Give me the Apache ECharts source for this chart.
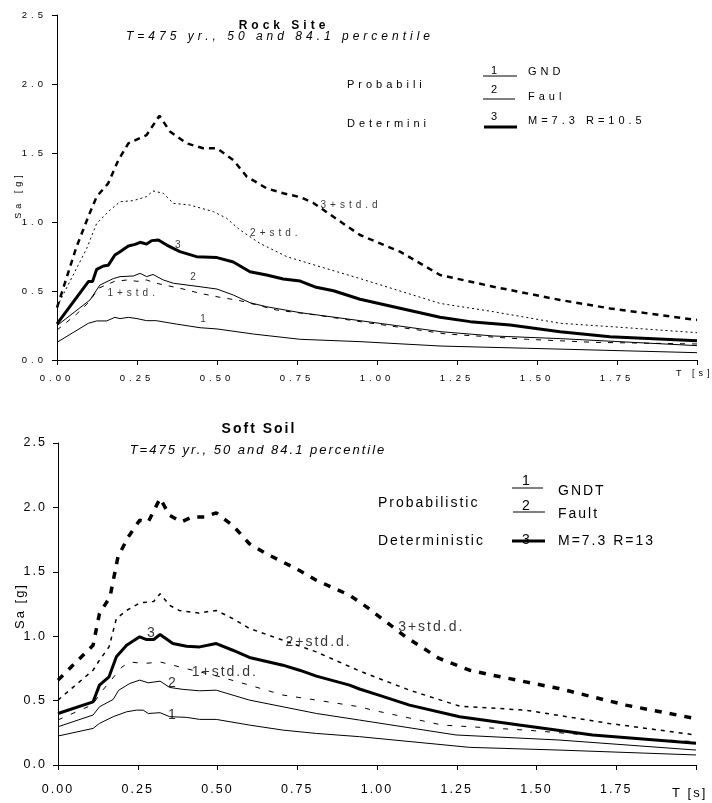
<!DOCTYPE html>
<html><head><meta charset="utf-8">
<script src="https://cdn.jsdelivr.net/npm/echarts@6/dist/echarts.min.js"></script>
<style>
html,body{margin:0;padding:0;background:#fff;width:712px;height:803px;overflow:hidden}
#top{position:absolute;left:0;top:0;width:712px;height:400px}
#bot{position:absolute;left:0;top:400px;width:712px;height:403px}
</style>
</head><body><div id="top"></div><div id="bot"></div>
<script>
// ---------- Rock Site (T [s], Sa [g]) ----------
var rock1 = [[0,0.128],[0.098,0.266],[0.124,0.283],[0.155,0.283],[0.181,0.309],[0.197,0.30],[0.223,0.309],[0.25,0.30],[0.28,0.285],[0.31,0.285],[0.374,0.26],[0.447,0.234],[0.5,0.225],[0.614,0.188],[0.76,0.15],[0.947,0.133],[1.2,0.101],[1.47,0.085],[2.0,0.053]];
var rock2 = [[0,0.249],[0.103,0.435],[0.134,0.543],[0.176,0.59],[0.197,0.604],[0.239,0.609],[0.26,0.628],[0.28,0.604],[0.30,0.62],[0.332,0.58],[0.364,0.556],[0.447,0.531],[0.5,0.514],[0.551,0.471],[0.603,0.415],[0.655,0.386],[0.76,0.343],[0.947,0.285],[1.2,0.205],[1.364,0.174],[1.572,0.155],[2.0,0.104]];
var rock3 = [[0,0.261],[0.098,0.568],[0.111,0.568],[0.124,0.657],[0.145,0.681],[0.16,0.686],[0.181,0.761],[0.197,0.785],[0.223,0.826],[0.244,0.838],[0.26,0.853],[0.28,0.84],[0.296,0.865],[0.317,0.87],[0.343,0.833],[0.384,0.785],[0.436,0.749],[0.5,0.742],[0.551,0.71],[0.603,0.64],[0.655,0.616],[0.707,0.587],[0.76,0.572],[0.81,0.527],[0.864,0.502],[0.947,0.44],[1.051,0.386],[1.197,0.31],[1.291,0.278],[1.416,0.254],[1.572,0.205],[1.728,0.169],[2.0,0.14]];
var rock1std = [[0,0.217],[0.06,0.33],[0.1,0.42],[0.13,0.52],[0.18,0.57],[0.22,0.58],[0.25,0.57],[0.28,0.58],[0.31,0.556],[0.384,0.52],[0.447,0.483],[0.51,0.454],[0.572,0.43],[0.686,0.362],[0.81,0.326],[0.947,0.278],[1.218,0.188],[1.47,0.15],[1.677,0.128],[2.0,0.116]];
var rock2std = [[0,0.386],[0.093,0.809],[0.124,0.99],[0.166,1.087],[0.197,1.147],[0.239,1.155],[0.28,1.184],[0.30,1.225],[0.332,1.208],[0.364,1.135],[0.415,1.123],[0.489,1.075],[0.53,1.027],[0.572,0.942],[0.634,0.845],[0.718,0.749],[0.822,0.676],[0.947,0.59],[1.197,0.41],[1.364,0.35],[1.572,0.266],[1.728,0.242],[2.0,0.198]];
var rock3std = [[0,0.38],[0.061,0.82],[0.098,1.04],[0.124,1.184],[0.16,1.28],[0.192,1.45],[0.223,1.57],[0.28,1.63],[0.32,1.77],[0.353,1.656],[0.405,1.57],[0.457,1.534],[0.5,1.534],[0.551,1.449],[0.593,1.329],[0.655,1.244],[0.707,1.208],[0.76,1.18],[0.8,1.14],[0.85,1.06],[0.9,0.98],[0.947,0.906],[1.072,0.785],[1.197,0.616],[1.364,0.531],[1.572,0.435],[1.728,0.374],[2.0,0.29]];
var rockLabels = [['3',0.384,0.833],['2',0.431,0.60],['1+std.',0.238,0.486],['1',0.4625,0.297],['2+std.',0.684,0.92],['3+std.d',0.919,1.123]];

// ---------- Soft Soil ----------
var soft1 = [[0,0.225],[0.11,0.284],[0.13,0.323],[0.173,0.375],[0.215,0.413],[0.246,0.426],[0.267,0.426],[0.283,0.40],[0.32,0.406],[0.35,0.375],[0.403,0.37],[0.444,0.354],[0.496,0.354],[0.6,0.31],[0.705,0.271],[0.81,0.245],[0.945,0.22],[1.29,0.137],[1.57,0.116],[2.0,0.078]];
var soft2 = [[0,0.297],[0.11,0.388],[0.13,0.452],[0.173,0.509],[0.19,0.58],[0.225,0.633],[0.256,0.659],[0.283,0.638],[0.32,0.651],[0.35,0.602],[0.392,0.587],[0.444,0.576],[0.496,0.581],[0.6,0.504],[0.705,0.452],[0.81,0.40],[0.945,0.349],[1.248,0.233],[1.57,0.194],[2.0,0.116]];
var soft3 = [[0,0.40],[0.11,0.49],[0.13,0.62],[0.16,0.685],[0.183,0.84],[0.215,0.93],[0.256,0.995],[0.278,0.974],[0.3,0.974],[0.32,1.013],[0.36,0.943],[0.403,0.922],[0.444,0.917],[0.496,0.943],[0.548,0.891],[0.6,0.835],[0.705,0.775],[0.757,0.736],[0.81,0.69],[0.914,0.62],[0.945,0.59],[0.998,0.548],[1.102,0.465],[1.259,0.375],[1.446,0.31],[1.676,0.233],[2.0,0.168]];
var soft1std = [[0,0.35],[0.11,0.47],[0.13,0.55],[0.16,0.64],[0.2,0.76],[0.225,0.80],[0.27,0.788],[0.32,0.80],[0.36,0.775],[0.4,0.749],[0.5,0.69],[0.6,0.62],[0.705,0.543],[0.81,0.504],[0.945,0.452],[0.986,0.426],[1.205,0.31],[1.466,0.271],[1.727,0.22],[2.0,0.181]];
var soft2std = [[0,0.504],[0.11,0.736],[0.13,0.814],[0.16,0.917],[0.183,1.137],[0.215,1.2],[0.256,1.258],[0.3,1.27],[0.32,1.33],[0.35,1.24],[0.38,1.2],[0.44,1.18],[0.496,1.2],[0.548,1.137],[0.6,1.06],[0.705,0.969],[0.81,0.878],[0.945,0.73],[1.102,0.581],[1.259,0.457],[1.466,0.426],[1.727,0.323],[2.0,0.233]];
var soft3std = [[0,0.659],[0.11,0.93],[0.13,1.176],[0.163,1.305],[0.188,1.616],[0.22,1.77],[0.256,1.9],[0.283,1.887],[0.32,2.07],[0.35,1.938],[0.386,1.887],[0.42,1.925],[0.46,1.925],[0.496,1.958],[0.548,1.86],[0.6,1.718],[0.653,1.64],[0.705,1.576],[0.757,1.51],[0.81,1.434],[0.914,1.318],[0.966,1.23],[1.09,0.995],[1.195,0.827],[1.29,0.736],[1.36,0.698],[1.57,0.594],[1.78,0.465],[2.0,0.36]];
var softLabels = [['3',0.294,1.023],['2',0.36,0.636],['1',0.36,0.388],['1+std.d.',0.523,0.721],['2+std.d.',0.817,0.953],['3+std.d.',1.17,1.07]];

var xTicks = [0,0.25,0.5,0.75,1.0,1.25,1.5,1.75,2.0];
var yTicks = [0,0.5,1.0,1.5,2.0,2.5];

var FF = '"Liberation Sans", Arial, Helvetica, sans-serif';

function lineSeries(data, width, dash){
  return {type:'line', data:data, symbol:'none', showSymbol:false, silent:true, animation:false,
    lineStyle:{color:'#000', width:width, type:dash || 'solid', cap:'butt'}};
}
function labelSeries(labels, fs){
  return {type:'scatter', symbolSize:0, silent:true, animation:false, z:5,
    data: labels.map(function(l){return {value:[l[1],l[2]], name:l[0]};}),
    label:{show:true, position:'inside', formatter:'{b}', color:'#000', fontSize:fs, fontFamily:FF}};
}
function txt(x,y,text,fs,opts){
  opts = opts || {};
  return {type:'text', x:x, y:y, rotation:opts.rot||0, silent:true, z:10,
    style:{text:text, fill:'#000', fontSize:fs, fontFamily:FF, fontWeight:opts.bold?'bold':'normal',
      fontStyle:opts.italic?'italic':'normal', align:opts.align||'left', verticalAlign:'middle',
      textAlign:opts.align||'left', textVerticalAlign:'middle'}};
}
function seg(x1,x2,y,w){
  return {type:'line', silent:true, z:10, shape:{x1:x1,y1:y,x2:x2,y2:y}, style:{stroke:'#000', lineWidth:w}};
}
function axes(fs, xMargin, yMargin){
  return {
    xAxis:{type:'value', min:xTicks[0], max:xTicks[xTicks.length-1], interval:0.25,
      axisLine:{show:true, onZero:false, lineStyle:{color:'#000', width:1}},
      axisTick:{show:true, length:5, lineStyle:{color:'#000'}},
      splitLine:{show:false},
      axisLabel:{color:'#000', fontSize:fs, fontFamily:FF, margin:xMargin,
        formatter:function(v){return v>=1.99 ? '' : v.toFixed(2);}}},
    yAxis:{type:'value', min:yTicks[0], max:yTicks[yTicks.length-1], interval:0.5,
      axisLine:{show:true, lineStyle:{color:'#000', width:1}},
      axisTick:{show:true, length:5, lineStyle:{color:'#000'}},
      splitLine:{show:false},
      axisLabel:{color:'#000', fontSize:fs, fontFamily:FF, margin:yMargin,
        formatter:function(v){return v.toFixed(1);}}}
  };
}
function applySpacing(chart, px){
  try{
    var zr = chart.getZr();
    zr.refreshImmediately();
    var painter = zr.painter;
    var layers = painter.getLayers ? painter.getLayers() : {};
    Object.keys(layers).forEach(function(k){
      var ctx = layers[k].ctx;
      if (ctx && ('letterSpacing' in ctx)) ctx.letterSpacing = px + 'px';
    });
    painter.refresh(true);
  }catch(e){}
}

// ---------- top chart ----------
var topChart = echarts.init(document.getElementById('top'), null, {renderer:'canvas'});
var ta = axes(9.5, 13, 10);
topChart.setOption({
  backgroundColor:'#fff', animation:false,
  grid:{left:57, right:15, top:15, bottom:40},
  xAxis:ta.xAxis, yAxis:ta.yAxis,
  series:[
    lineSeries(rock1, 1), lineSeries(rock2, 1), lineSeries(rock3, 3),
    lineSeries(rock1std, 1, [5,7]), lineSeries(rock2std, 1, [2,3]), lineSeries(rock3std, 2.5, [6,5]),
    labelSeries(rockLabels, 10)
  ],
  graphic:[
    txt(284, 26, 'Rock Site', 12, {bold:true, align:'center'}),
    txt(280, 37, 'T=475 yr., 50 and 84.1 percentile', 12, {italic:true, align:'center'}),
    txt(496, 71, '1', 11, {align:'center'}), seg(483,517,76,1), txt(528, 72, 'GND', 11),
    txt(347, 85, 'Probabili', 11),
    txt(496, 90, '2', 11, {align:'center'}), seg(483,515,99,1), txt(528, 96.5, 'Faul', 11),
    txt(496, 117, '3', 11, {align:'center'}), seg(484,517,127,3), txt(528, 121, 'M=7.3 R=10.5', 11),
    txt(347, 124, 'Determini', 11),
    txt(676, 374, 'T [s]', 9),
    txt(19, 195, 'Sa [g]', 9, {align:'center', rot:Math.PI/2})
  ]
});
applySpacing(topChart, 4);

// ---------- bottom chart ----------
var botChart = echarts.init(document.getElementById('bot'), null, {renderer:'canvas'});
var ba = axes(12.5, 18, 11);
botChart.setOption({
  backgroundColor:'#fff', animation:false,
  grid:{left:58, right:16, top:43, bottom:38},
  xAxis:ba.xAxis, yAxis:ba.yAxis,
  series:[
    lineSeries(soft1, 1), lineSeries(soft2, 1), lineSeries(soft3, 3),
    lineSeries(soft1std, 1, [5,9]), lineSeries(soft2std, 1.5, [4,5]), lineSeries(soft3std, 3.5, [7,8]),
    labelSeries(softLabels, 14)
  ],
  graphic:[
    txt(259, 29, 'Soft Soil', 14, {bold:true, align:'center'}),
    txt(258, 50, 'T=475 yr., 50 and 84.1 percentile', 13, {italic:true, align:'center'}),
    txt(527, 81, '1', 14, {align:'center'}), seg(512,543,88,1), txt(558, 91, 'GNDT', 14),
    txt(378, 103.5, 'Probabilistic', 14),
    txt(527, 106, '2', 14, {align:'center'}), seg(513,545,112,1), txt(558, 114, 'Fault', 14),
    txt(378, 141, 'Deterministic', 14),
    txt(527, 140, '3', 14, {align:'center'}), seg(512,545,141,3), txt(558, 141, 'M=7.3 R=13', 14),
    txt(672, 393, 'T [s]', 13),
    txt(20, 206, 'Sa [g]', 13, {align:'center', rot:Math.PI/2})
  ]
});
applySpacing(botChart, 2);
</script>
</body></html>
